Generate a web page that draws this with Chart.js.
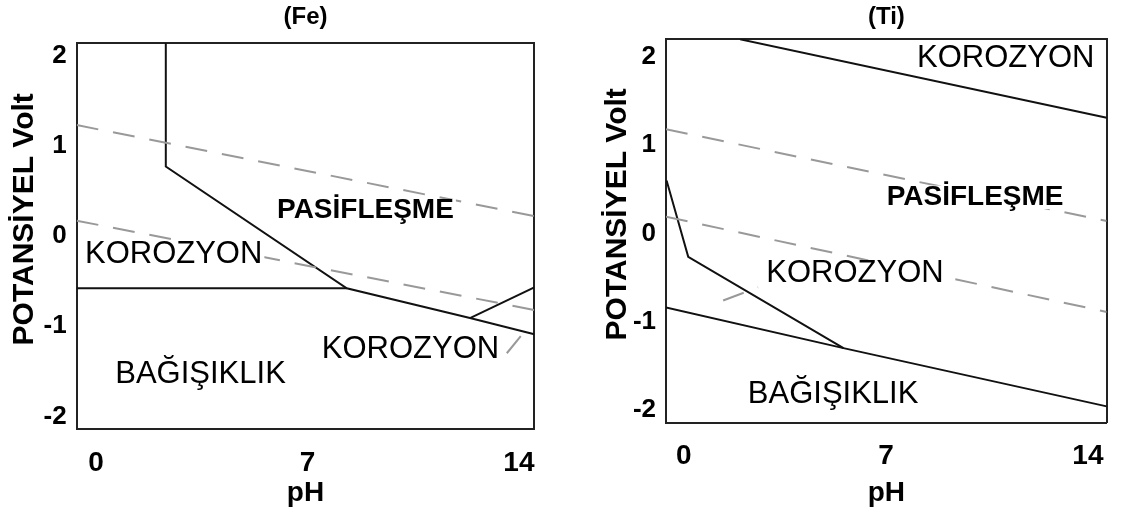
<!DOCTYPE html>
<html>
<head>
<meta charset="utf-8">
<script src="https://cdn.jsdelivr.net/npm/chart.js@4/dist/chart.umd.min.js"></script>
<style>
    html, body { margin: 0; padding: 0; background: #fff; }
    #wrap { position: relative; width: 1126px; height: 519px; overflow: hidden; }
    #feChart { position: absolute; left: 0; top: 0; }
    #tiChart { position: absolute; left: 560px; top: 0; }
</style>
</head>
<body>
<div id="wrap">
    <canvas id="feChart" width="560" height="519"></canvas>
    <canvas id="tiChart" width="566" height="519"></canvas>
</div>
<script>
// Eksen etiketleri
const phTicks = [0, 7, 14];
const voltTicks = [-2, -1, 0, 1, 2];

// (Fe) diyagramı - çizgiler (pH, Volt)
const feBoundaryPh = [2.31, 2.31, 8.30, 12.38, 14.51];
const feBoundaryE = [2.14, 0.77, -0.58, -0.91, -1.09];
const feImmunityPh = [-0.64, 8.30];
const feImmunityE = [-0.58, -0.58];
const feBranchPh = [12.38, 14.51];
const feBranchE = [-0.91, -0.57];
const feOxygenPh = [-0.64, 14.51];
const feOxygenE = [1.23, 0.22];
const feHydrogenPh = [-0.64, 14.51];
const feHydrogenE = [0.17, -0.82];
const feStubPh = [13.60, 14.26];
const feStubE = [-1.30, -1.03];

// (Fe) bölge yazıları
const feLabels = ['PASİFLEŞME', 'KOROZYON', 'KOROZYON', 'BAĞIŞIKLIK'];
const feLabelPh = [8.92, 2.57, 10.41, 3.46];
const feLabelE = [0.28, -0.21, -1.26, -1.54];

// (Ti) diyagramı - çizgiler (pH, Volt)
const tiUpperPh = [1.95, 14.65];
const tiUpperE = [2.20, 1.31];
const tiOxygenPh = [-0.62, 14.65];
const tiOxygenE = [1.18, 0.14];
const tiHydrogenPh = [-0.62, 14.65];
const tiHydrogenE = [0.19, -0.89];
const tiPassivePh = [-0.60, 0.15, 5.53];
const tiPassiveE = [0.60, -0.265, -1.30];
const tiImmunityPh = [-0.62, 5.53, 14.65];
const tiImmunityE = [-0.84, -1.30, -1.96];
const tiStubPh = [1.36, 2.57];
const tiStubE = [-0.76, -0.61];

// (Ti) bölge yazıları
const tiLabels = ['KOROZYON', 'PASİFLEŞME', 'KOROZYON', 'BAĞIŞIKLIK'];
const tiLabelPh = [11.15, 10.09, 5.93, 5.17];
const tiLabelE = [1.98, 0.41, -0.45, -1.82];

const FONT = '"Liberation Sans", Arial, Helvetica, sans-serif';
Chart.defaults.font.family = FONT;
Chart.defaults.color = '#000';

function pairs(xs, ys) {
    return xs.map(function(x, i) { return { x: x, y: ys[i] }; });
}

function solid(xs, ys) {
    return { data: pairs(xs, ys), showLine: true, borderColor: '#111', borderWidth: 2, pointRadius: 0, tension: 0 };
}

function dashed(xs, ys) {
    return { data: pairs(xs, ys), showLine: true, borderColor: '#999', borderWidth: 2, borderDash: [22, 15], pointRadius: 0, tension: 0 };
}

// Bölge adlarını ölçek koordinatlarında yazar
const regionLabels = {
    id: 'regionLabels',
    afterDatasetsDraw(chart, args, opts) {
        const ctx = chart.ctx;
        const xs = chart.scales.x;
        const ys = chart.scales.y;
        ctx.save();
        ctx.textAlign = 'center';
        ctx.textBaseline = 'middle';
        opts.text.forEach(function(t, i) {
            const bold = t === 'PASİFLEŞME';
            const size = bold ? 28 : 31;
            ctx.font = (bold ? 'bold ' : '') + size + 'px ' + FONT;
            const px = xs.getPixelForValue(opts.ph[i]);
            const py = ys.getPixelForValue(opts.e[i]);
            const w = ctx.measureText(t).width;
            ctx.fillStyle = '#fff';
            ctx.fillRect(px - w / 2 - 2, py - size * 0.42, w + 4, size * 0.84);
            ctx.fillStyle = '#000';
            ctx.fillText(t, px, py);
        });
        ctx.restore();
    }
};

function makeDiagram(id, cfg) {
    return new Chart(document.getElementById(id), {
        type: 'scatter',
        data: { datasets: cfg.datasets },
        options: {
            responsive: false,
            animation: false,
            layout: { padding: { left: 0, right: cfg.padRight, top: 0, bottom: 0 } },
            plugins: {
                legend: { display: false },
                tooltip: { enabled: false },
                title: {
                    display: true,
                    text: cfg.title,
                    fullSize: false,
                    color: '#000',
                    font: { size: 24, weight: 'bold' },
                    padding: { top: 2.6, bottom: cfg.titleGap }
                },
                regionLabels: { text: cfg.labels, ph: cfg.labelPh, e: cfg.labelE }
            },
            scales: {
                x: {
                    type: 'linear',
                    position: 'bottom',
                    min: cfg.xMin,
                    max: cfg.xMax,
                    afterBuildTicks: function(s) { s.ticks = phTicks.map(function(v) { return { value: v }; }); },
                    afterFit: function(s) { s.height = cfg.xHeight; },
                    grid: { display: false, drawTicks: false },
                    border: { display: true, color: '#222', width: 2 },
                    ticks: {
                        autoSkip: false,
                        maxRotation: 0,
                        padding: 17,
                        color: '#000',
                        font: { size: 28, weight: 'bold' },
                        callback: function(v) { return String(v); }
                    },
                    title: {
                        display: true,
                        text: 'pH',
                        color: '#000',
                        font: { size: 28, weight: 'bold' },
                        padding: { top: 0, bottom: 9 }
                    }
                },
                y: {
                    type: 'linear',
                    position: 'left',
                    min: cfg.yMin,
                    max: cfg.yMax,
                    afterBuildTicks: function(s) { s.ticks = voltTicks.map(function(v) { return { value: v }; }); },
                    afterFit: function(s) { s.width = cfg.yWidth; },
                    grid: { display: false, drawTicks: false },
                    border: { display: true, color: '#222', width: 2 },
                    ticks: {
                        autoSkip: false,
                        padding: 10,
                        color: '#000',
                        font: { size: 26, weight: 'bold' },
                        callback: function(v) { return String(v); }
                    },
                    title: {
                        display: true,
                        text: '    POTANSİYEL Volt',
                        color: '#000',
                        font: { size: 30, weight: 'bold' },
                        padding: { top: cfg.yTitlePad, bottom: 0 }
                    }
                },
                xTop: {
                    type: 'linear',
                    position: 'top',
                    afterFit: function(s) { s.height = 0; },
                    grid: { display: false, drawTicks: false },
                    border: { display: true, color: '#222', width: 2 },
                    ticks: { display: false }
                },
                yRight: {
                    type: 'linear',
                    position: 'right',
                    afterFit: function(s) { s.width = 0; },
                    grid: { display: false, drawTicks: false },
                    border: { display: true, color: '#222', width: 2 },
                    ticks: { display: false }
                }
            }
        },
        plugins: [regionLabels]
    });
}

document.addEventListener('DOMContentLoaded', function() {
    makeDiagram('feChart', {
        title: '(Fe)',
        titleGap: 11.6,
        padRight: 25.7,
        xMin: -0.64, xMax: 14.51,
        yMin: -2.14, yMax: 2.14,
        xHeight: 90,
        yWidth: 76.7,
        yTitlePad: 7,
        labels: feLabels, labelPh: feLabelPh, labelE: feLabelE,
        datasets: [
            dashed(feOxygenPh, feOxygenE),
            dashed(feHydrogenPh, feHydrogenE),
            dashed(feStubPh, feStubE),
            solid(feBoundaryPh, feBoundaryE),
            solid(feImmunityPh, feImmunityE),
            solid(feBranchPh, feBranchE)
        ]
    });

    makeDiagram('tiChart', {
        title: '(Ti)',
        titleGap: 7.9,
        padRight: 19.3,
        xMin: -0.62, xMax: 14.65,
        yMin: -2.145, yMax: 2.20,
        xHeight: 96.3,
        yWidth: 106,
        yTitlePad: 40,
        labels: tiLabels, labelPh: tiLabelPh, labelE: tiLabelE,
        datasets: [
            dashed(tiOxygenPh, tiOxygenE),
            dashed(tiHydrogenPh, tiHydrogenE),
            dashed(tiStubPh, tiStubE),
            solid(tiUpperPh, tiUpperE),
            solid(tiPassivePh, tiPassiveE),
            solid(tiImmunityPh, tiImmunityE)
        ]
    });
});
</script>
</body>
</html>
